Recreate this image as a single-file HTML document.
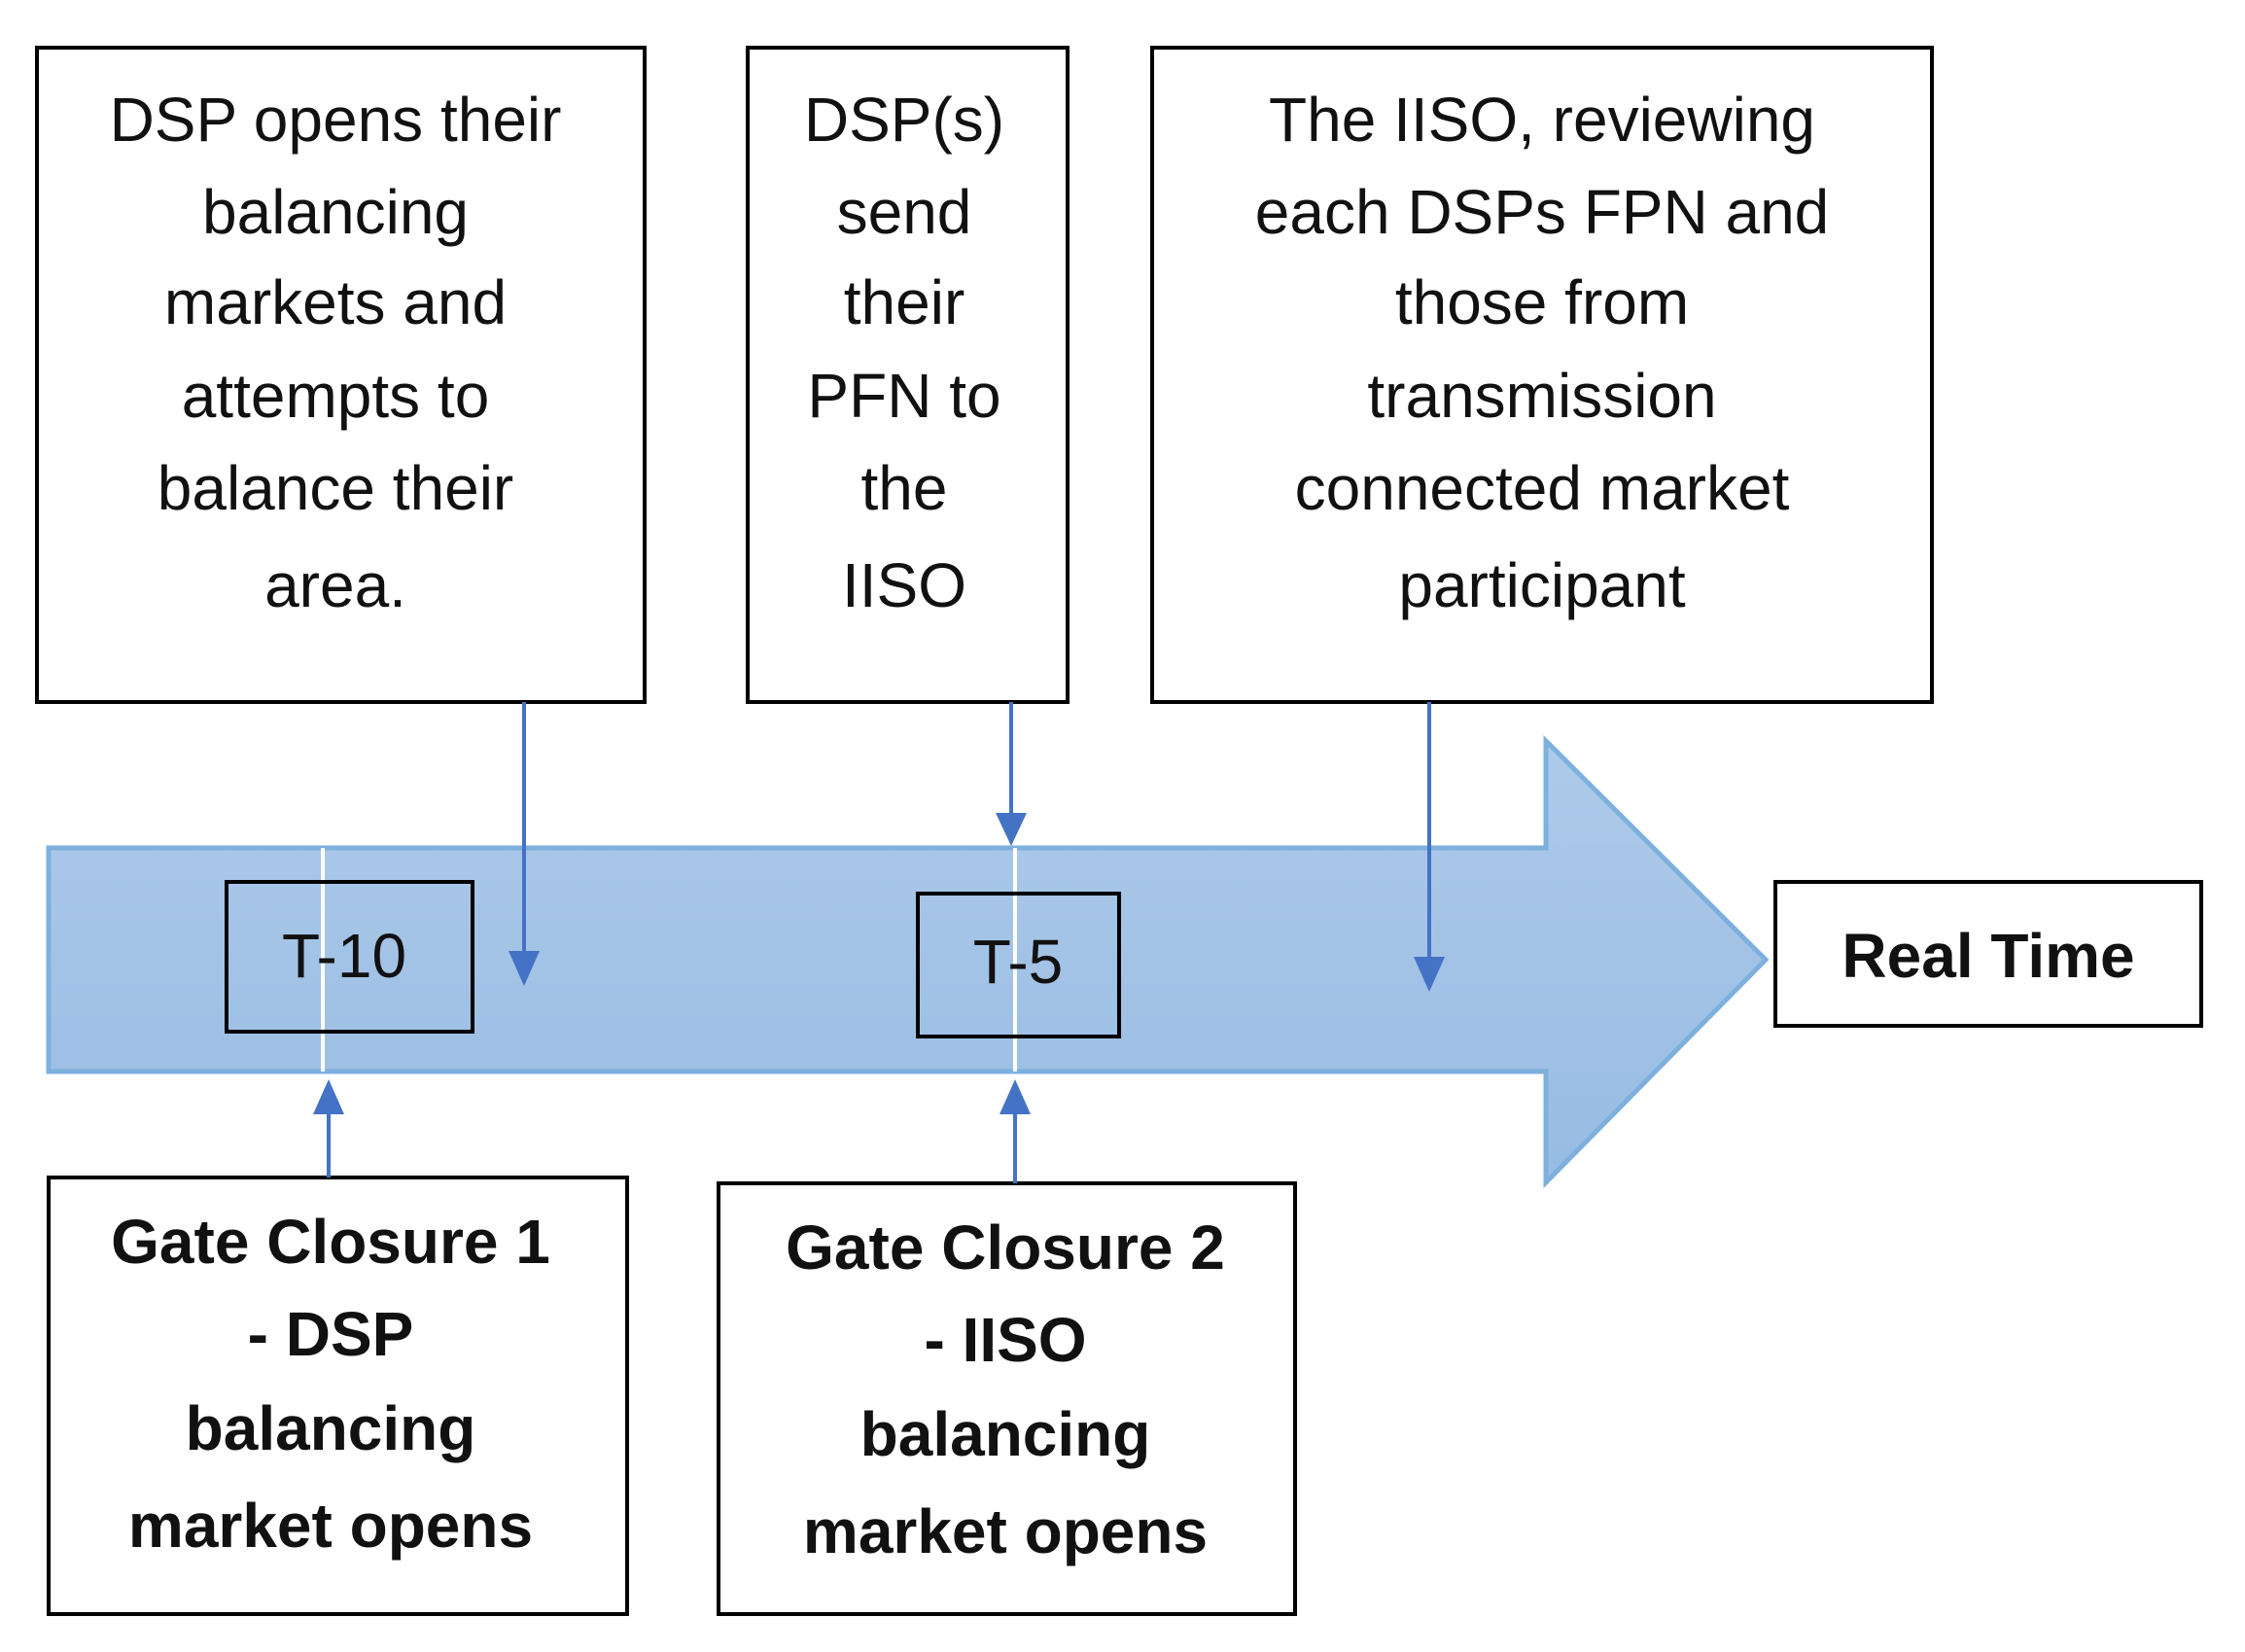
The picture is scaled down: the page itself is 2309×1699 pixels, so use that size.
<!DOCTYPE html>
<html><head><meta charset="utf-8"><style>
html,body{margin:0;padding:0;background:#fff;}
svg{display:block;}
text{font-family:"Liberation Sans",sans-serif;fill:#111;}
</style></head><body>
<svg width="2309" height="1699" viewBox="0 0 2309 1699" xmlns="http://www.w3.org/2000/svg">
<defs>
<linearGradient id="g" x1="0" y1="0" x2="0" y2="1">
<stop offset="0" stop-color="#aecaea"/><stop offset="1" stop-color="#97bce2"/>
</linearGradient>
</defs>
<polygon points="50,872 1590,872 1590,762 1816,987 1590,1216 1590,1102 50,1102" fill="url(#g)" stroke="#7eb0de" stroke-width="5"/>
<line x1="332" y1="872" x2="332" y2="1102" stroke="#fff" stroke-width="4"/>
<line x1="1044" y1="872" x2="1044" y2="1102" stroke="#fff" stroke-width="4"/>
<g fill="#fff" stroke="#000" stroke-width="4">
<rect x="38" y="49" width="625" height="673"/>
<rect x="769" y="49" width="329" height="673"/>
<rect x="1185" y="49" width="802" height="673"/>
<rect x="1826" y="907" width="438" height="148"/>
<rect x="50" y="1211" width="595" height="449"/>
<rect x="739" y="1217" width="593" height="443"/>
</g>
<g fill="none" stroke="#000" stroke-width="4">
<rect x="233" y="907" width="253" height="154"/>
<rect x="944" y="919" width="207" height="147"/>
</g>
<g stroke="#4472c4" stroke-width="4" fill="#4472c4">
<line x1="539" y1="722" x2="539" y2="985"/>
<polygon points="523,978 555,978 539,1014" stroke="none"/>
<line x1="1040" y1="722" x2="1040" y2="842"/>
<polygon points="1024,836 1056,836 1040,870" stroke="none"/>
<line x1="1470" y1="722" x2="1470" y2="990"/>
<polygon points="1454,984 1486,984 1470,1020" stroke="none"/>
<line x1="338" y1="1211" x2="338" y2="1140"/>
<polygon points="322,1146 354,1146 338,1110" stroke="none"/>
<line x1="1044" y1="1217" x2="1044" y2="1140"/>
<polygon points="1028,1146 1060,1146 1044,1110" stroke="none"/>
</g>
<g font-size="64" text-anchor="middle">
<text x="345" y="145">DSP opens their</text>
<text x="345" y="240">balancing</text>
<text x="345" y="333">markets and</text>
<text x="345" y="429">attempts to</text>
<text x="345" y="524">balance their</text>
<text x="345" y="624">area.</text>
<text x="930" y="145">DSP(s)</text>
<text x="930" y="240">send</text>
<text x="930" y="333">their</text>
<text x="930" y="429">PFN to</text>
<text x="930" y="524">the</text>
<text x="930" y="624">IISO</text>
<text x="1586" y="145">The IISO, reviewing</text>
<text x="1586" y="240">each DSPs FPN and</text>
<text x="1586" y="333">those from</text>
<text x="1586" y="429">transmission</text>
<text x="1586" y="524">connected market</text>
<text x="1586" y="624">participant</text>
<text x="354" y="1005">T-10</text>
<text x="1047" y="1011">T-5</text>
</g>
<g font-size="64" text-anchor="middle" font-weight="bold">
<text x="2045" y="1005">Real Time</text>
<text x="340" y="1299">Gate Closure 1</text>
<text x="340" y="1394">- DSP</text>
<text x="340" y="1491">balancing</text>
<text x="340" y="1591">market opens</text>
<text x="1034" y="1305">Gate Closure 2</text>
<text x="1034" y="1400">- IISO</text>
<text x="1034" y="1497">balancing</text>
<text x="1034" y="1597">market opens</text>
</g>
</svg>
</body></html>
